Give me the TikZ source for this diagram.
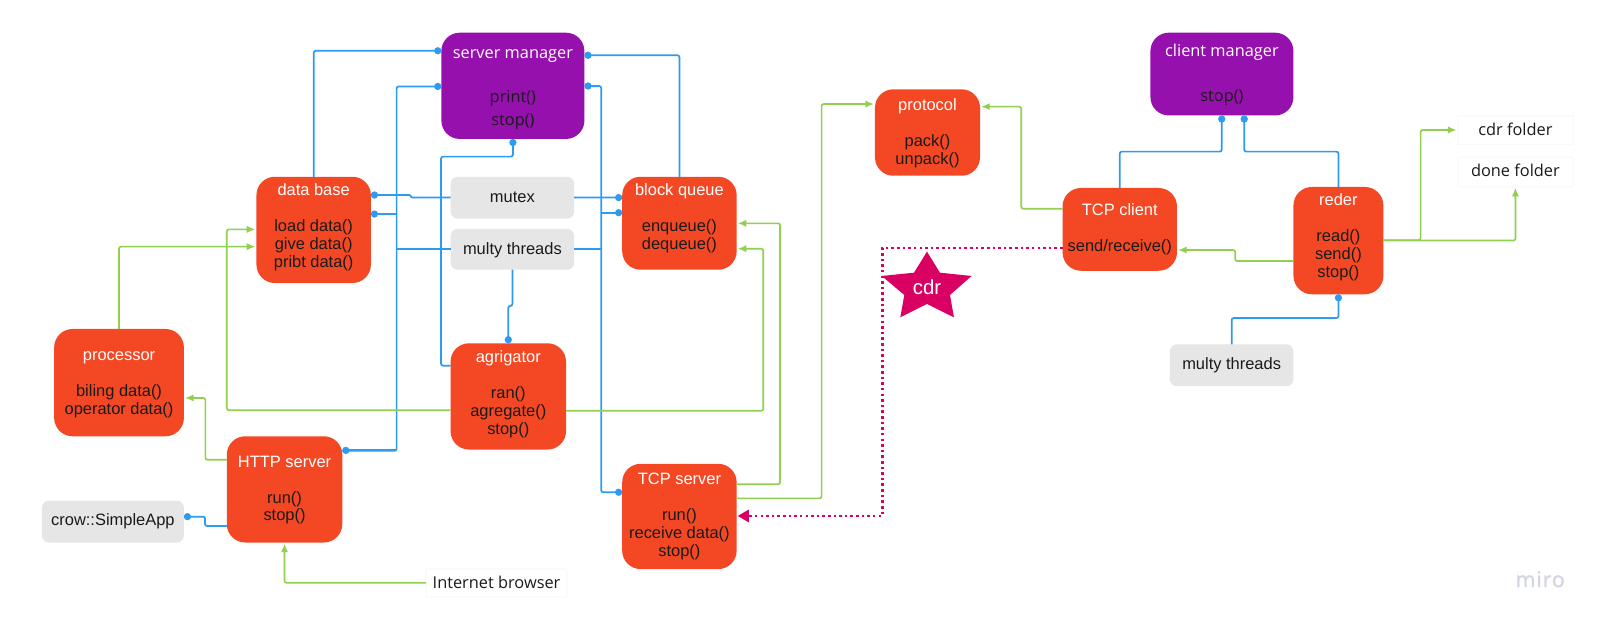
\documentclass[tikz,border=0pt]{standalone}
\usepackage{fontspec}
\usetikzlibrary{arrows.meta,calc}
\setmainfont{Liberation Sans}
\newfontfamily\opensans{Open Sans}
\newfontfamily\logofont[LetterSpace=4,FakeBold=1.2]{Open Sans}
\definecolor{blockred}{HTML}{F44824}
\definecolor{violetbox}{HTML}{9510AC}
\definecolor{soft}{HTML}{E6E6E6}
\definecolor{linkblue}{HTML}{2D9BF0}
\definecolor{linkgreen}{HTML}{8FD14F}
\definecolor{magent}{HTML}{DA0063}
\definecolor{ink}{HTML}{1A1A1A}
\definecolor{faint}{HTML}{F6F6F6}
\definecolor{logo}{HTML}{D3D5E2}
\newcommand\ttl[1]{\textcolor{white}{#1}}
\newcommand\txt[2]{\raisebox{#1}[\height][\depth]{\begin{tabular}{@{}c@{}}#2\end{tabular}}}
\newcommand\basefont{\fontsize{16.1}{17.6}\selectfont}
\newcommand\opfont{\opensans\fontsize{16}{21.8}\selectfont}
\tikzset{
  x=1pt,y=-1pt,
  boxbase/.style={rounded corners=#1,inner sep=0pt,outer sep=0pt,text=ink,font=\basefont,anchor=north west},
  red box/.style={boxbase=18pt,fill=blockred},
  violet box/.style={boxbase=18pt,fill=violetbox,font=\opfont},
  grey box/.style={boxbase=7pt,fill=soft},
  white box/.style={boxbase=1pt,fill=white,draw=faint,line width=.7pt,font=\opfont},
  blue link/.style={draw=linkblue,line width=1.7pt,rounded corners=2pt},
  dot link/.style={blue link,{Circle[length=7pt]}-},
  dot both/.style={blue link,{Circle[length=7pt]}-{Circle[length=7pt]}},
  green line/.style={draw=linkgreen,line width=1.6pt,rounded corners=2pt},
  green link/.style={green line,-{Latex[length=8.5pt,width=7pt]},shorten >=1pt},
  pink link/.style={draw=magent,line width=2.5pt,dash pattern=on 2.5pt off 3pt,-{Triangle[length=11pt,width=12pt]},shorten >=1pt},
}
\newcommand\bx[7]{\node[#1,minimum width={(#5-#3)*1pt},minimum height={(#6-#4)*1pt}] (#2) at (#3,#4) {#7};}
\begin{document}
\begin{tikzpicture}
\useasboundingbox (0,0) rectangle (1568,610.8);
\fill[white] (0,0) rectangle (1568,610.8);

\bx{violet box}{sm}{432}{32}{572}{136}{\txt{-1.5pt}{\ttl{server manager}\\ \\print()\\stop()}}
\bx{red box}{db}{251}{173}{363}{277}{\txt{1.8pt}{\ttl{data base}\\ \\load data()\\give data()\\pribt data()}}
\bx{red box}{bq}{609}{173}{721}{264}{\txt{4.7pt}{\ttl{block queue}\\ \\enqueue()\\dequeue()}}
\bx{grey box}{mx}{441}{173}{562}{214}{mutex}
\bx{grey box}{mt}{441}{224}{562}{264}{\txt{-1.5pt}{multy threads}}
\bx{red box}{ag}{441}{336}{554}{440}{\txt{1.5pt}{\ttl{agrigator}\\ \\ran()\\agregate()\\stop()}}
\bx{red box}{pr}{53}{322}{180}{427}{\txt{-1pt}{\ttl{processor}\\ \\biling data()\\operator data()}}
\bx{red box}{hs}{222}{427}{335}{531}{\txt{-1pt}{\ttl{HTTP server}\\ \\run()\\stop()}}
\bx{grey box}{cr}{41}{490}{180}{531}{crow::SimpleApp}
\bx{red box}{ts}{609}{454}{721}{557}{\txt{-0.6pt}{\ttl{TCP server}\\ \\run()\\receive data()\\stop()}}
\bx{red box}{pt}{856.4}{87.4}{959.2}{172}{\txt{-1pt}{\ttl{protocol}\\ \\pack()\\unpack()}}
\bx{violet box}{cm}{1126}{32}{1266}{113}{\txt{-0.5pt}{\ttl{client manager}\\ \\stop()}}
\bx{red box}{tc}{1040}{184}{1152}{265}{\txt{-0.5pt}{\ttl{TCP client}\\ \\send/receive()}}
\bx{red box}{rd}{1266}{183}{1354}{288}{\txt{2.5pt}{\ttl{reder}\\ \\read()\\send()\\stop()}}
\bx{grey box}{mr}{1145}{337}{1266}{378}{\txt{-0.5pt}{multy threads}}
\bx{white box}{cf}{1426.7}{113.2}{1539.8}{141.3}{\txt{-1pt}{cdr folder}}
\bx{white box}{df}{1426.7}{154}{1539.8}{182.7}{\txt{-0.5pt}{done folder}}
\bx{white box}{ib}{417}{557}{555}{584}{\txt{-1pt}{Internet browser}}
\fill[magent] (907.3,246.3) -- (920,266.9) -- (951,270.1) -- (929.8,288.7) -- (933.7,310.6) -- (907.3,297.5) -- (881.2,310.6) -- (885.1,288.7) -- (863,270.1) -- (894.6,266.9) -- cycle;
\node[text=white,font=\fontsize{20}{22}\selectfont,inner sep=0pt] (star) at (907.3,281) {cdr};
\node[text=logo,font=\logofont\fontsize{21}{24}\selectfont,inner sep=0pt] (miro) at (1507.5,567) {miro};

% blue links
\draw[dot link] (sm.west |- 0,49.7) -| (db.north);
\draw[dot link] (sm.west |- 0,84.6) -| (388.2,441.2) -- (hs.east |- 0,441.2);
\draw[dot link] (hs.east |- 0,440.8) -- (387.6,440.8);
\draw[dot link] (db.east |- 0,209.5) -- (388.2,209.5);
\draw[dot link,rounded corners=1pt] (db.east |- 0,190.9) -- (402,190.9) -- (402,193.2) -- (mx.west |- 0,193.2);
\draw[blue link] (mt.west |- 0,243.8) -- (388.2,243.8);
\draw[dot link] (bq.west |- 0,193.4) -- (mx.east |- 0,193.2);
\draw[dot link] (bq.west |- 0,208.2) -- (588.4,208.2);
\draw[blue link] (mt.east |- 0,243.8) -- (588.4,243.8);
\draw[dot link] (sm.east |- 0,54.1) -| (bq.north);
\draw[dot both] (sm.east |- 0,84.2) -| (588.4,481.8) -- (ts.west |- 0,481.8);
\draw[dot link] (sm.south) -- (sm.south |- 0,153.3) -| (431.7,357.9) -- (ag.west |- 0,357.9);
\draw[dot link] (ag.north) -- (ag.north |- 0,299.5) -- (mt.south |- 0,299.5) -- (mt.south);
\draw[dot link] (cr.east |- 0,505.7) -| (200.7,514.8) -- (hs.west |- 0,514.8);
\draw[dot link] (cm.south -| 1195.8,0) |- (tc.north |- 0,148.4) -- (tc.north);
\draw[dot link] (cm.south -| 1217.8,0) |- (rd.north |- 0,148.4) -- (rd.north);
\draw[dot link] (rd.south) |- (mr.north |- 0,311.3) -- (mr.north);

% green links
\draw[green link] (pr.north) |- (db.west |- 0,241.4);
\draw[green link] (ag.west |- 0,401.5) -| (222,224.5) -- (db.west |- 0,224.5);
\draw[green link] (ag.east |- 0,402) -| (747.1,243.4) -- (bq.east |- 0,243.4);
\draw[green link] (ts.east |- 0,474) -| (763.5,218.6) -- (bq.east |- 0,218.6);
\draw[green link] (ts.east |- 0,487.8) -| (804.2,101.8) -- (pt.west |- 0,101.8);
\draw[green link] (hs.west |- 0,450) -| (201,389.5) -- (pr.east |- 0,389.5);
\draw[green link] (ib.west) -| (hs.south);
\draw[green link] (tc.west |- 0,204.3) -| (999.6,104.4) -- (pt.east |- 0,104.4);
\draw[green link] (rd.west |- 0,255.5) -| (1209,244.7) -- (tc.east |- 0,244.7);
\draw[green link] (rd.east |- 0,235) -| (1390.5,127.2) -- (cf.west |- 0,127.2);
\draw[green link] (rd.east |- 0,235.4) -| (df.south);

% pink link
\draw[pink link] (tc.west |- 0,242.6) -- (863.6,242.6) -- (863.6,505) -- (ts.east |- 0,505);
\end{tikzpicture}
\end{document}
